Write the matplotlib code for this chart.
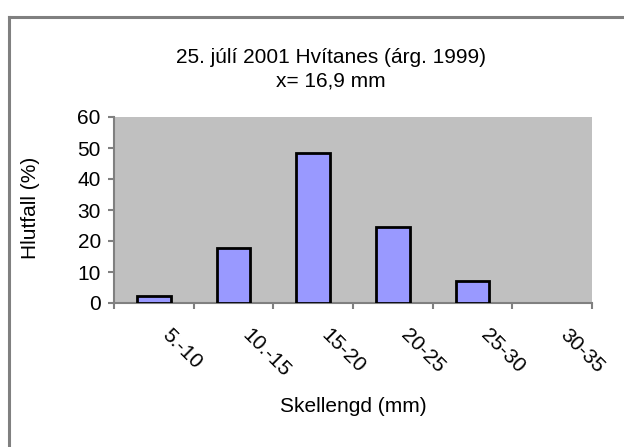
import matplotlib
matplotlib.use("Agg")
import matplotlib.pyplot as plt
from matplotlib.lines import Line2D
import matplotlib.transforms as mtransforms

categories = ["5.-10", "10.-15", "15-20", "20-25", "25-30", "30-35"]
values = [2.3, 17.7, 48.3, 24.6, 7.1, 0.0]
yticks = [0, 10, 20, 30, 40, 50, 60]

title = "25. júlí 2001 Hvítanes (árg. 1999)\nx= 16,9 mm"
xlabel = "Skellengd (mm)"
ylabel = "Hlutfall (%)"

plt.rcParams['font.family'] = ['Liberation Sans', 'DejaVu Sans']
FS = 15

W, H = 624, 447
fig = plt.figure(figsize=(W/100, H/100), dpi=100)
ax = fig.add_axes([114/W, 1-303/H, (592-114)/W, (303-117)/H])
ax.set_facecolor('#c0c0c0')

x = list(range(len(categories)))
edges = ['black' if v > 0 else 'none' for v in values]
ax.bar(x, values, width=0.42, color='#9999ff', edgecolor=edges, linewidth=2, zorder=3)

ax.set_xlim(-0.5, len(categories)-0.5)
ax.set_ylim(0, 60)
ax.set_yticks(yticks)
ax.set_yticklabels([str(t) for t in yticks], fontsize=FS)

ax.set_xticks([i - 0.5 for i in range(len(categories)+1)])
ax.set_xticklabels([])
trans = mtransforms.blended_transform_factory(ax.transData, ax.transAxes)
for i, lab in enumerate(categories):
    off = mtransforms.offset_copy(trans, fig=fig, x=13.0, y=-16.0, units='points')
    ax.text(i, 0, lab, transform=off, rotation=-45, ha='left', va='top',
            rotation_mode='anchor', fontsize=FS, clip_on=False)

ax.tick_params(axis='x', length=4.5, width=1.5, color='#808080', direction='out')
ax.tick_params(axis='y', length=4.5, width=1.5, color='#808080', direction='out', pad=5)

for s in ['top', 'right']:
    ax.spines[s].set_visible(False)
for s in ['left', 'bottom']:
    ax.spines[s].set_color('#808080')
    ax.spines[s].set_linewidth(1.5)

fig.text(331/W, 1-69/H, title, ha='center', va='center', fontsize=FS, linespacing=1.3)
fig.text(353/W, 1-407/H, xlabel, ha='center', va='center', fontsize=FS)
fig.text(31/W, 1-208/H, ylabel, ha='center', va='center', rotation=90, fontsize=FS)

fig.add_artist(Line2D([9/W, 1], [1-17/H, 1-17/H], color='#808080', linewidth=2.2, transform=fig.transFigure))
fig.add_artist(Line2D([9/W, 9/W], [0, 1-17/H], color='#808080', linewidth=2.2, transform=fig.transFigure))

fig.savefig('out.png', dpi=100)
